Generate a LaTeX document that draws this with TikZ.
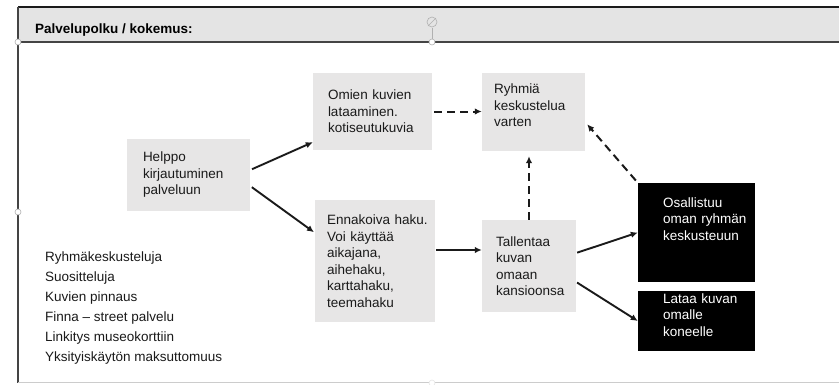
\documentclass[tikz,border=0pt]{standalone}
\usepackage{fontspec}
\setmainfont{Liberation Sans}
\usetikzlibrary{arrows.meta,positioning,calc}
\definecolor{boxgray} {HTML}{E7E6E6}
\definecolor{headgray}{HTML}{E4E4E4}
\definecolor{frame}   {HTML}{444444}
\definecolor{handle}  {HTML}{B0B0B0}
\definecolor{ink}     {HTML}{1A1A1A}
\newcommand{\boxfont}{\fontsize{13.5}{16.5}\selectfont}
\newcommand{\listfont}{\fontsize{13.5}{20}\selectfont}
\newcommand{\padend}[1]{\par\vspace{#1}\hrule height 0pt}
\hyphenpenalty=10000
\exhyphenpenalty=10000

\begin{document}
\begin{tikzpicture}[x=1pt,y=-1pt,
    flowbox/.style={fill=boxgray,text=ink,font=\boxfont,align=left,inner ysep=0pt},
    darkbox/.style={flowbox,fill=black,text=white},
    flow/.style={draw=ink,line width=1.9pt,-{Latex[length=7pt,width=6.5pt]}},
    dashflow/.style={flow,line width=2pt,dash pattern=on 8pt off 5pt},
    grip/.style={circle,draw=handle,fill=white,line width=0.6pt,inner sep=0pt,minimum size=6pt}]
  \useasboundingbox (0,0) rectangle (839,384);
  % slide frame and title band
  \fill[headgray] (18,7) rectangle (839,42);
  \draw[ink,line width=1.6pt] (18,7) -- (839,7);
  \draw[frame,line width=1.4pt] (18,42) -- (839,42);
  \draw[frame,line width=1.4pt] (18,7) -- (18,383);
  \draw[black!20,line width=1pt] (18,382) -- (839,382);
  \node[font=\bfseries\fontsize{13.5}{16}\selectfont,anchor=base west,inner sep=0pt] (title) at (35,33) {Palvelupolku / kokemus:};
  % selection handles
  \coordinate (rot) at (432,22);
  \node[grip] (gtop) at (432,42) {};
  \draw[handle,line width=0.6pt] (gtop) -- (432,28);
  \draw[handle,line width=0.6pt] (rot) circle (5pt);
  \draw[handle,line width=0.6pt] (428,26) -- (436,18);
  \node[grip] (gleft) at (18,42) {};
  \node[grip] (gmid) at (18,212) {};
  \node[grip,draw=black!10] (gbot) at (432,383) {};

  % boxes
  \node[flowbox,text width=91pt,inner xsep=16pt,minimum height=72pt] (helppo) at (188.5,175)
    {Helppo\\kirjautuminen\\palveluun};
  \node[flowbox,text width=89pt,inner xsep=15pt,minimum height=77pt] (omien) at (372.5,111.5)
    {Omien~kuvien\\lataaminen.\\kotiseutukuvia};
  \node[flowbox,text width=79pt,inner xsep=12pt,minimum height=78pt] (ryhmia) at (533.5,112)
    {Ryhmiä\\keskustelua\\varten\padend{13pt}};
  \node[flowbox,text width=96pt,inner xsep=12pt,minimum height=122pt] (haku) at (375,261)
    {Ennakoiva~haku.\\Voi~käyttää\\aikajana,\\aihehaku,\\karttahaku,\\teemahaku};
  \node[flowbox,text width=66pt,inner xsep=14pt,minimum height=92pt] (tallentaa) at (529,266)
    {Tallentaa\\kuvan\\omaan\\kansioonsa};
  \node[darkbox,text width=67pt,inner xsep=25pt,minimum height=99pt] (osallistuu) at (696.5,232.5)
    {Osallistuu\\oman~ryhmän\\keskusteuun\padend{27pt}};
  \node[darkbox,text width=67pt,inner xsep=25pt,minimum height=60pt] (lataa) at (696.5,321)
    {Lataa~kuvan\\omalle\\koneelle\padend{12pt}};

  % feature list
  \node[font=\listfont,text=ink,align=left,anchor=north west,inner sep=0pt] (lista) at (45,252)
    {Ryhmäkeskusteluja\\Suositteluja\\Kuvien pinnaus\\Finna – street palvelu\\Linkitys museokorttiin\\Yksityiskäytön maksuttomuus};

  % connectors
  \draw[flow,shorten <=2pt] ([yshift=5pt]helppo.east) -- ([yshift=8pt]omien.south west);
  \draw[flow,shorten <=2pt,shorten >=1pt] ([yshift=-11pt]helppo.east) -- ([yshift=-33pt]haku.north west);
  \draw[flow,shorten <=1pt] ([yshift=16pt]tallentaa.west -| haku.east) -- ([yshift=16pt]tallentaa.west);
  \draw[flow,shorten <=1pt] ([yshift=13pt]tallentaa.east) -- (osallistuu.west);
  \draw[flow,shorten <=1pt] ([yshift=-16pt]tallentaa.east) -- (lataa.west);
  \draw[dashflow,shorten <=2pt] (omien.east) -- (omien.east -| ryhmia.west);
  \draw[dashflow,shorten >=5pt] (tallentaa.north) -- (tallentaa.north |- ryhmia.south);
  \draw[dashflow,shorten <=3pt,shorten >=3pt] (osallistuu.north west) -- ([yshift=-10pt]ryhmia.east);
\end{tikzpicture}
\end{document}
